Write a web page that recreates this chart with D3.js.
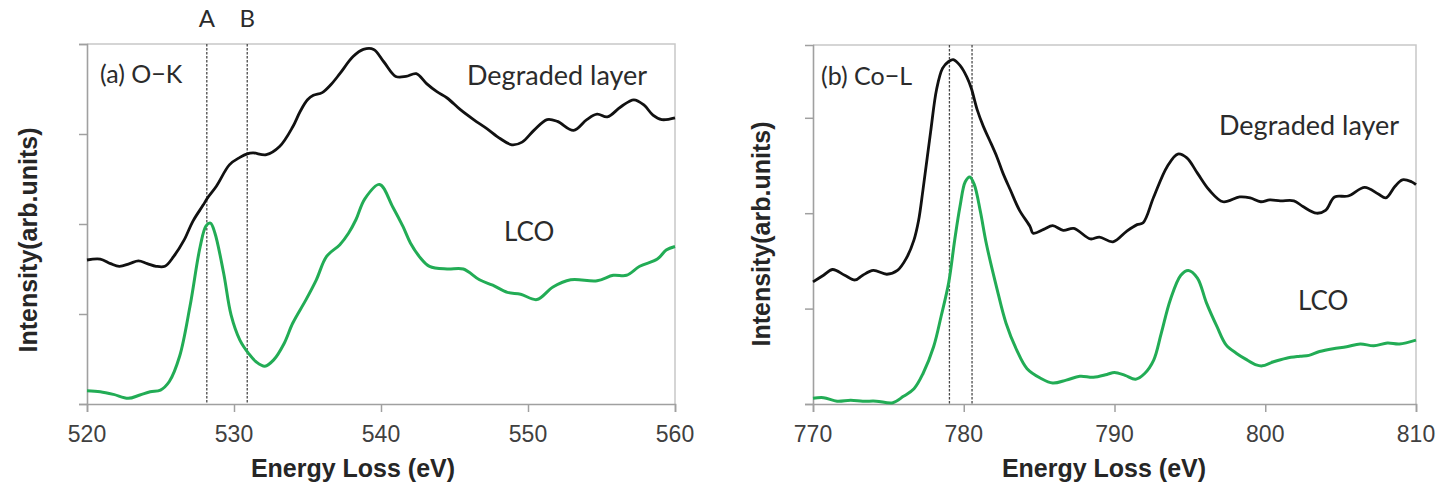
<!DOCTYPE html>
<html>
<head>
<meta charset="utf-8">
<script src="https://cdn.jsdelivr.net/npm/d3@7"></script>
<style>
  html, body { margin: 0; padding: 0; background: #fff; }
  svg { display: block; }
  .tick-label { font-family: "Liberation Sans", Arial, sans-serif; font-size: 23px; fill: #404040; }
  .axis-title { font-family: "Liberation Sans", Arial, sans-serif; font-size: 25px; font-weight: bold; fill: #262626; }
  .annot { font-family: Lato, "Open Sans", sans-serif; fill: #2b2b2b; }
</style>
</head>
<body>
<svg id="chart" width="1442" height="485"></svg>
<script>
// ---------- DATA ----------
// (a) O-K edge: [energy loss (eV), intensity (arb. units)]
const okDegraded = [[520,1.60],[520.9,1.61],[521.6,1.56],[522.2,1.53],[522.9,1.56],[523.5,1.59],[524.1,1.56],[524.7,1.53],[525.3,1.53],[525.9,1.64],[526.6,1.82],[527.2,2.03],[527.9,2.21],[528.2,2.29],[528.8,2.42],[529.7,2.66],[530.4,2.74],[530.9,2.78],[531.3,2.79],[532.2,2.77],[533.1,2.86],[534.0,3.08],[534.5,3.25],[535.0,3.38],[535.4,3.43],[536.0,3.46],[536.6,3.55],[537.2,3.67],[538.1,3.86],[538.8,3.94],[539.5,3.94],[540.2,3.80],[541.0,3.64],[541.7,3.64],[542.4,3.67],[543.1,3.56],[543.8,3.47],[544.5,3.40],[545.4,3.27],[546.3,3.16],[547.2,3.06],[548.1,2.95],[548.9,2.88],[549.6,2.91],[550.4,3.04],[551.3,3.16],[552.0,3.14],[553.1,3.04],[554.0,3.16],[554.7,3.22],[555.4,3.19],[556.3,3.30],[557.2,3.38],[557.9,3.32],[558.5,3.21],[559.1,3.16],[560,3.18]];
const okLCO = [[520,0.148],[520.9,0.137],[521.8,0.107],[522.8,0.063],[523.6,0.10],[524.3,0.137],[525.0,0.155],[525.6,0.25],[526.3,0.53],[527.0,1.08],[527.7,1.75],[528.1,1.98],[528.4,2.01],[528.7,1.90],[529.3,1.45],[529.8,0.99],[530.4,0.71],[531.0,0.56],[531.5,0.47],[532.1,0.42],[532.7,0.49],[533.4,0.67],[534.0,0.90],[534.9,1.16],[535.6,1.38],[536.3,1.64],[537.2,1.77],[537.8,1.90],[538.3,2.05],[538.9,2.28],[539.9,2.44],[540.8,2.19],[541.5,1.97],[542.0,1.79],[542.7,1.62],[543.3,1.53],[544.5,1.50],[545.6,1.50],[546.7,1.38],[547.6,1.32],[548.6,1.24],[549.5,1.22],[550.6,1.16],[551.7,1.30],[552.9,1.38],[554.7,1.37],[555.8,1.43],[556.7,1.43],[557.6,1.53],[558.8,1.61],[559.4,1.71],[560,1.75]];
// (b) Co-L edge
const coDegraded = [[770,1.28],[770.7,1.35],[771.3,1.41],[772.1,1.35],[772.8,1.30],[773.3,1.35],[774.0,1.40],[774.9,1.36],[775.6,1.40],[776.2,1.53],[776.7,1.72],[777.0,1.92],[777.3,2.25],[777.8,2.85],[778.2,3.30],[778.6,3.52],[779.0,3.59],[779.3,3.61],[779.75,3.55],[780.2,3.43],[780.5,3.31],[780.9,3.08],[781.3,2.91],[781.7,2.77],[782.2,2.59],[782.6,2.42],[783.1,2.24],[783.7,2.03],[784.4,1.86],[784.6,1.79],[785.3,1.83],[785.9,1.87],[786.6,1.82],[787.3,1.84],[788.4,1.73],[789.0,1.75],[789.9,1.70],[790.8,1.81],[791.5,1.88],[791.9,1.90],[792.6,2.17],[793.5,2.49],[794.2,2.62],[794.8,2.58],[795.5,2.42],[796.3,2.24],[797.2,2.12],[798.3,2.17],[799.0,2.16],[799.7,2.12],[800.3,2.14],[801.0,2.13],[801.9,2.13],[802.5,2.07],[803.4,2.00],[804.0,2.03],[804.6,2.17],[805.5,2.18],[806.6,2.27],[807.5,2.20],[808.0,2.16],[808.6,2.28],[809.1,2.35],[809.7,2.33],[810,2.30]];
const coLCO = [[770,0.06],[770.7,0.066],[771.6,0.03],[772.5,0.04],[773.3,0.03],[774.2,0.03],[775.3,0.014],[776.0,0.08],[776.7,0.16],[777.3,0.32],[778.0,0.60],[778.5,0.92],[779.0,1.27],[779.4,1.72],[779.75,2.07],[780.1,2.33],[780.4,2.38],[780.7,2.30],[781.1,2.02],[781.5,1.68],[782.2,1.21],[782.8,0.85],[783.5,0.57],[784.2,0.37],[785.1,0.27],[785.9,0.22],[786.8,0.25],[787.7,0.29],[788.6,0.28],[789.5,0.31],[790.0,0.33],[790.7,0.30],[791.4,0.26],[792.0,0.32],[792.6,0.46],[793.1,0.74],[793.7,1.09],[794.4,1.35],[794.9,1.40],[795.5,1.32],[796.1,1.06],[796.8,0.81],[797.4,0.62],[798.1,0.53],[798.7,0.47],[799.4,0.41],[799.8,0.40],[800.5,0.44],[801.4,0.48],[802.3,0.50],[802.9,0.51],[803.6,0.55],[804.5,0.58],[805.4,0.60],[806.3,0.63],[807.2,0.61],[808.1,0.64],[808.9,0.63],[810,0.67]];

const okXTicks = [520, 530, 540, 550, 560];
const coXTicks = [770, 780, 790, 800, 810];
const okYTicks = [0, 1, 2, 3, 4];
const coYTicks = [0, 1, 2, 3];
const okMarkers = [{label: "A", e: 528.15}, {label: "B", e: 530.9}];
const coMarkers = [{label: "", e: 779.05}, {label: "", e: 780.55}];

// ---------- LAYOUT ----------
const svg = d3.select("#chart");
const panels = [
  {left: 87, right: 675, top: 44, bottom: 404, xDomain: [520, 560], yDomain: [0, 4],
   xTicks: okXTicks, yTicks: okYTicks, degraded: okDegraded, lco: okLCO, markers: okMarkers,
   title: "(a) O\u2212K", titlePos: [100, 83],
   degLabelPos: [467, 85], lcoLabelPos: [504, 241], ylabelX: 37, ylabelY: 240, xlabelX: 353},
  {left: 813, right: 1416, top: 45, bottom: 404, xDomain: [770, 810], yDomain: [0, 3.763],
   xTicks: coXTicks, yTicks: coYTicks, degraded: coDegraded, lco: coLCO, markers: coMarkers,
   title: "(b) Co\u2212L", titlePos: [821, 85],
   degLabelPos: [1219, 135], lcoLabelPos: [1298, 310], ylabelX: 770, ylabelY: 234, xlabelX: 1104}
];

panels.forEach(p => {
  const x = d3.scaleLinear().domain(p.xDomain).range([p.left, p.right]);
  const y = d3.scaleLinear().domain(p.yDomain).range([p.bottom, p.top]);
  const g = svg.append("g");

  // frame (top & right, light)
  g.append("path")
    .attr("d", `M${p.left},${p.top}H${p.right}V${p.bottom}`)
    .attr("fill", "none").attr("stroke", "#c8c8c8").attr("stroke-width", 1.5);

  // y axis
  const yAxis = g.append("g").attr("transform", `translate(${p.left},0)`)
    .call(d3.axisLeft(y).tickValues(p.yTicks).tickSize(8).tickFormat(""));
  // x axis
  const xAxis = g.append("g").attr("transform", `translate(0,${p.bottom})`)
    .call(d3.axisBottom(x).tickValues(p.xTicks).tickSize(8).tickFormat(""));
  [yAxis, xAxis].forEach(a => {
    a.select(".domain").attr("stroke", "#a0a0a0").attr("stroke-width", 1.6);
    a.selectAll(".tick line").attr("stroke", "#a0a0a0").attr("stroke-width", 1.5);
  });
  // x tick labels
  g.selectAll(".xtl").data(p.xTicks).enter().append("text")
    .attr("class", "tick-label")
    .attr("x", d => x(d)).attr("y", p.bottom + 38)
    .attr("text-anchor", "middle").text(d => d);

  // dashed markers
  p.markers.forEach(m => {
    g.append("line")
      .attr("x1", x(m.e)).attr("x2", x(m.e))
      .attr("y1", p.top).attr("y2", p.bottom)
      .attr("stroke", "#4a4a4a").attr("stroke-width", 1.3)
      .attr("stroke-dasharray", "2.5,1.5");
    if (m.label) {
      g.append("text").attr("class", "annot")
        .attr("x", x(m.e)).attr("y", 27)
        .attr("text-anchor", "middle").attr("font-size", 24)
        .text(m.label);
    }
  });

  const line = d3.line().x(d => x(d[0])).y(d => y(d[1])).curve(d3.curveCatmullRom.alpha(0.5));
  g.append("path").datum(p.lco).attr("d", line)
    .attr("fill", "none").attr("stroke", "#22ac55").attr("stroke-width", 3)
    .attr("stroke-linejoin", "round");
  g.append("path").datum(p.degraded).attr("d", line)
    .attr("fill", "none").attr("stroke", "#111").attr("stroke-width", 2.8)
    .attr("stroke-linejoin", "round");

  // annotations
  g.append("text").attr("class", "annot").attr("font-size", 25)
    .attr("x", p.titlePos[0]).attr("y", p.titlePos[1]).text(p.title);
  g.append("text").attr("class", "annot").attr("font-size", 27)
    .attr("x", p.degLabelPos[0]).attr("y", p.degLabelPos[1]).text("Degraded layer");
  g.append("text").attr("class", "annot").attr("font-size", 26)
    .attr("x", p.lcoLabelPos[0]).attr("y", p.lcoLabelPos[1]).text("LCO");

  // axis titles
  g.append("text").attr("class", "axis-title")
    .attr("x", p.xlabelX).attr("y", 477).attr("text-anchor", "middle")
    .text("Energy Loss (eV)");
  g.append("text").attr("class", "axis-title")
    .attr("transform", `translate(${p.ylabelX},${p.ylabelY}) rotate(-90)`)
    .attr("text-anchor", "middle")
    .text("Intensity(arb.units)");
});
</script>
</body>
</html>
